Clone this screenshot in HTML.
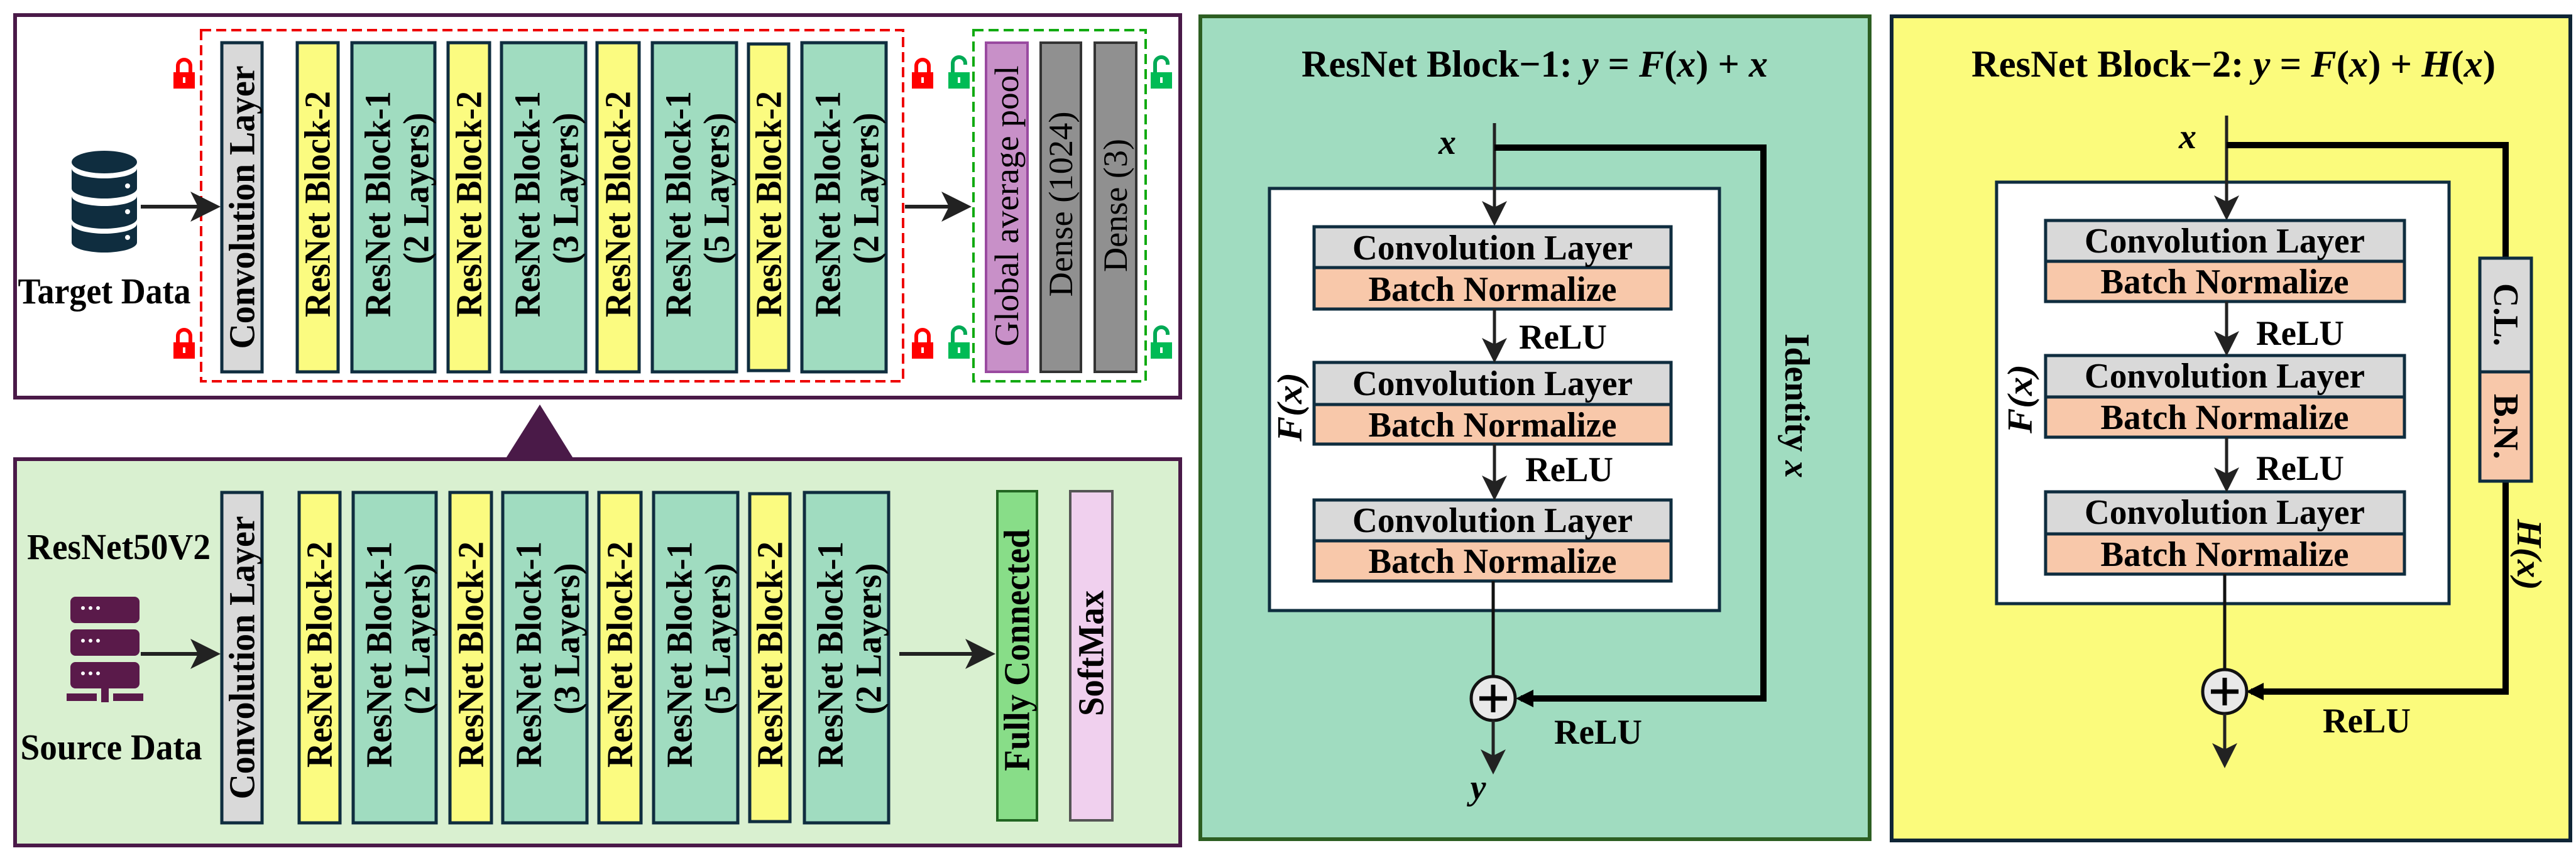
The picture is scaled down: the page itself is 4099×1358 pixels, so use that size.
<!DOCTYPE html>
<html><head><meta charset="utf-8"><style>html,body{margin:0;padding:0;background:#fff}svg{display:block}</style></head><body>
<svg width="4099" height="1358" viewBox="0 0 4099 1358" xmlns="http://www.w3.org/2000/svg" font-family="Liberation Serif, serif">
<defs>
<marker id="ah" markerWidth="8" markerHeight="8" refX="7" refY="4" orient="auto" markerUnits="strokeWidth"><path d="M0,0 L8,4 L0,8 L2,4 z" fill="#222"/></marker>
<g id="lockR"><path d="M-10,0 v-10 a10,10 0 0 1 20,0 v10" fill="none" stroke="#f00" stroke-width="6"/><rect x="-17" y="0" width="34" height="26" fill="#f00"/><rect x="-2" y="8" width="4" height="9" fill="#fff"/></g>
<g id="lockG"><path d="M-10,0 v-14 a10,10 0 0 1 20,0 v2" fill="none" stroke="#0a5" stroke-width="6"/><rect x="-17" y="0" width="34" height="26" fill="#0b5"/><rect x="-2" y="8" width="4" height="9" fill="#fff"/></g>
</defs>

<!-- TOP PANEL -->
<rect x="24" y="24" width="1854" height="609" fill="#fff" stroke="#4a1a48" stroke-width="6"/>
<rect x="320" y="48" width="1117" height="559" fill="none" stroke="#e00" stroke-width="4" stroke-dasharray="16,8"/>
<rect x="1549" y="48" width="274" height="559" fill="none" stroke="#1a1" stroke-width="4" stroke-dasharray="16,8"/>
<g fill="#0f2d3f">
<ellipse cx="166" cy="258" rx="52" ry="18"/>
<path d="M114,268 v32 a52,16 0 0 0 104,0 v-32 a52,16 0 0 1 -104,0z"/>
<path d="M114,312 v36 a52,16 0 0 0 104,0 v-36 a52,16 0 0 1 -104,0z"/>
<path d="M114,356 v30 a52,16 0 0 0 104,0 v-30 a52,16 0 0 1 -104,0z"/>
</g>
<g fill="#fff"><circle cx="203" cy="296" r="4"/><circle cx="203" cy="337" r="4"/><circle cx="203" cy="378" r="4"/></g>
<text x="166" y="483" font-size="58" font-weight="bold" text-anchor="middle" textLength="275" lengthAdjust="spacingAndGlyphs">Target Data</text>
<line x1="224" y1="329" x2="345" y2="329" stroke="#222" stroke-width="6" marker-end="url(#ah)"/>
<line x1="1440" y1="329" x2="1540" y2="329" stroke="#222" stroke-width="6" marker-end="url(#ah)"/>
<use href="#lockR" x="293" y="115"/><use href="#lockR" x="293" y="545"/>
<use href="#lockR" x="1468" y="115"/><use href="#lockR" x="1468" y="545"/>
<use href="#lockG" x="1526" y="115"/><use href="#lockG" x="1526" y="545"/>
<use href="#lockG" x="1848" y="115"/><use href="#lockG" x="1848" y="545"/>

<g stroke="#0f2d3f" stroke-width="5">
<rect x="353" y="68" width="64" height="524" fill="#d9d9d9"/>
<rect x="473" y="68" width="65" height="524" fill="#fbfb80"/>
<rect x="560" y="68" width="132" height="524" fill="#a0dcc0"/>
<rect x="713" y="68" width="66" height="524" fill="#fbfb80"/>
<rect x="798" y="68" width="134" height="524" fill="#a0dcc0"/>
<rect x="950" y="68" width="67" height="524" fill="#fbfb80"/>
<rect x="1038" y="68" width="134" height="524" fill="#a0dcc0"/>
<rect x="1191" y="70" width="64" height="520" fill="#fbfb80"/>
<rect x="1276" y="68" width="134" height="524" fill="#a0dcc0"/>
</g>
<rect x="1569" y="68" width="66" height="524" fill="#c890c8" stroke="#9a4aa0" stroke-width="4"/>
<rect x="1656" y="68" width="64" height="524" fill="#909090" stroke="#333" stroke-width="4"/>
<rect x="1742" y="68" width="66" height="524" fill="#909090" stroke="#333" stroke-width="4"/>

<g font-size="58" font-weight="bold" text-anchor="middle" dominant-baseline="central" lengthAdjust="spacingAndGlyphs">
<text transform="translate(385,330) rotate(-90)" textLength="451" lengthAdjust="spacingAndGlyphs">Convolution Layer</text>
<text transform="translate(505,325) rotate(-90)" textLength="360" lengthAdjust="spacingAndGlyphs">ResNet Block-2</text>
<text transform="translate(601,325) rotate(-90)" textLength="360" lengthAdjust="spacingAndGlyphs">ResNet Block-1</text>
<text transform="translate(662,300) rotate(-90)" textLength="241" lengthAdjust="spacingAndGlyphs">(2 Layers)</text>
<text transform="translate(746,325) rotate(-90)" textLength="360" lengthAdjust="spacingAndGlyphs">ResNet Block-2</text>
<text transform="translate(839,325) rotate(-90)" textLength="360" lengthAdjust="spacingAndGlyphs">ResNet Block-1</text>
<text transform="translate(900,300) rotate(-90)" textLength="241" lengthAdjust="spacingAndGlyphs">(3 Layers)</text>
<text transform="translate(983,325) rotate(-90)" textLength="360" lengthAdjust="spacingAndGlyphs">ResNet Block-2</text>
<text transform="translate(1079,325) rotate(-90)" textLength="360" lengthAdjust="spacingAndGlyphs">ResNet Block-1</text>
<text transform="translate(1140,300) rotate(-90)" textLength="241" lengthAdjust="spacingAndGlyphs">(5 Layers)</text>
<text transform="translate(1223,325) rotate(-90)" textLength="360" lengthAdjust="spacingAndGlyphs">ResNet Block-2</text>
<text transform="translate(1317,325) rotate(-90)" textLength="360" lengthAdjust="spacingAndGlyphs">ResNet Block-1</text>
<text transform="translate(1378,300) rotate(-90)" textLength="241" lengthAdjust="spacingAndGlyphs">(2 Layers)</text>
</g>
<g font-size="54" text-anchor="middle" dominant-baseline="central">
<text transform="translate(1602,328) rotate(-90)" textLength="447" lengthAdjust="spacingAndGlyphs">Global average pool</text>
<text transform="translate(1688,325) rotate(-90)" textLength="295" lengthAdjust="spacingAndGlyphs">Dense (1024)</text>
<text transform="translate(1775,327) rotate(-90)" textLength="212" lengthAdjust="spacingAndGlyphs">Dense (3)</text>
</g>

<polygon points="859,644 804,731 913,731" fill="#4a1a48"/>

<!-- BOTTOM PANEL -->
<rect x="24" y="731" width="1854" height="615" fill="#d9f0d0" stroke="#4a1a48" stroke-width="6"/>
<text x="189" y="890" font-size="58" font-weight="bold" text-anchor="middle" textLength="292" lengthAdjust="spacingAndGlyphs">ResNet50V2</text>
<g fill="#5a1a4a">
<rect x="112" y="950" width="110" height="42" rx="8"/>
<rect x="112" y="1002" width="110" height="42" rx="8"/>
<rect x="112" y="1054" width="110" height="42" rx="8"/>
<rect x="161" y="1096" width="12" height="22"/>
<rect x="106" y="1104" width="48" height="12"/><rect x="180" y="1104" width="48" height="12"/>
</g>
<g fill="#fff"><circle cx="132" cy="968" r="3"/><circle cx="144" cy="968" r="3"/><circle cx="156" cy="968" r="3"/>
<circle cx="132" cy="1020" r="3"/><circle cx="144" cy="1020" r="3"/><circle cx="156" cy="1020" r="3"/>
<circle cx="132" cy="1072" r="3"/><circle cx="144" cy="1072" r="3"/><circle cx="156" cy="1072" r="3"/></g>
<text x="177" y="1209" font-size="58" font-weight="bold" text-anchor="middle" textLength="289" lengthAdjust="spacingAndGlyphs">Source Data</text>
<line x1="224" y1="1041" x2="345" y2="1041" stroke="#222" stroke-width="6" marker-end="url(#ah)"/>
<line x1="1431" y1="1041" x2="1578" y2="1041" stroke="#222" stroke-width="6" marker-end="url(#ah)"/>

<g stroke="#0f2d3f" stroke-width="5">
<rect x="353" y="784" width="64" height="526" fill="#d9d9d9"/>
<rect x="476" y="784" width="65" height="526" fill="#fbfb80"/>
<rect x="562" y="784" width="132" height="526" fill="#a0dcc0"/>
<rect x="716" y="784" width="66" height="526" fill="#fbfb80"/>
<rect x="800" y="784" width="134" height="526" fill="#a0dcc0"/>
<rect x="953" y="784" width="67" height="526" fill="#fbfb80"/>
<rect x="1040" y="784" width="134" height="526" fill="#a0dcc0"/>
<rect x="1193" y="786" width="64" height="522" fill="#fbfb80"/>
<rect x="1280" y="784" width="134" height="526" fill="#a0dcc0"/>
</g>
<rect x="1587" y="782" width="63" height="524" fill="#88dd88" stroke="#226622" stroke-width="4"/>
<rect x="1703" y="782" width="67" height="524" fill="#f0d0ee" stroke="#555" stroke-width="4"/>
<g font-size="58" font-weight="bold" text-anchor="middle" dominant-baseline="central">
<text transform="translate(385,1047) rotate(-90)" textLength="451" lengthAdjust="spacingAndGlyphs">Convolution Layer</text>
<text transform="translate(508,1042) rotate(-90)" textLength="360" lengthAdjust="spacingAndGlyphs">ResNet Block-2</text>
<text transform="translate(603,1042) rotate(-90)" textLength="360" lengthAdjust="spacingAndGlyphs">ResNet Block-1</text>
<text transform="translate(664,1017) rotate(-90)" textLength="241" lengthAdjust="spacingAndGlyphs">(2 Layers)</text>
<text transform="translate(749,1042) rotate(-90)" textLength="360" lengthAdjust="spacingAndGlyphs">ResNet Block-2</text>
<text transform="translate(841,1042) rotate(-90)" textLength="360" lengthAdjust="spacingAndGlyphs">ResNet Block-1</text>
<text transform="translate(902,1017) rotate(-90)" textLength="241" lengthAdjust="spacingAndGlyphs">(3 Layers)</text>
<text transform="translate(986,1042) rotate(-90)" textLength="360" lengthAdjust="spacingAndGlyphs">ResNet Block-2</text>
<text transform="translate(1081,1042) rotate(-90)" textLength="360" lengthAdjust="spacingAndGlyphs">ResNet Block-1</text>
<text transform="translate(1142,1017) rotate(-90)" textLength="241" lengthAdjust="spacingAndGlyphs">(5 Layers)</text>
<text transform="translate(1225,1042) rotate(-90)" textLength="360" lengthAdjust="spacingAndGlyphs">ResNet Block-2</text>
<text transform="translate(1321,1042) rotate(-90)" textLength="360" lengthAdjust="spacingAndGlyphs">ResNet Block-1</text>
<text transform="translate(1382,1017) rotate(-90)" textLength="241" lengthAdjust="spacingAndGlyphs">(2 Layers)</text>
<text transform="translate(1618,1035) rotate(-90)" textLength="385" lengthAdjust="spacingAndGlyphs">Fully Connected</text>
<text transform="translate(1736,1040) rotate(-90)" textLength="200" lengthAdjust="spacingAndGlyphs">SoftMax</text>
</g>

<!-- MIDDLE PANEL -->
<rect x="1910" y="26" width="1065" height="1310" fill="#a0dcc0" stroke="#2d5e22" stroke-width="6"/>
<text x="2442" y="122" font-size="60" font-weight="bold" text-anchor="middle" textLength="742" lengthAdjust="spacingAndGlyphs">ResNet Block−1: <tspan font-style="italic">y</tspan> = <tspan font-style="italic">F</tspan>(<tspan font-style="italic">x</tspan>) + <tspan font-style="italic">x</tspan></text>
<rect x="2020" y="300" width="716" height="672" fill="#fff" stroke="#0f2d3f" stroke-width="5"/>
<text x="2303" y="245" font-size="56" font-weight="bold" font-style="italic" text-anchor="middle">x</text>
<line x1="2378" y1="196" x2="2378" y2="355" stroke="#222" stroke-width="5" marker-end="url(#ah)"/>
<polyline points="2378,235 2806,235 2806,1112 2420,1112" fill="none" stroke="#000" stroke-width="10"/>
<polygon points="2412,1112 2440,1098 2440,1126" fill="#000"/>
<g stroke="#0f2d3f" stroke-width="5">
<rect x="2091" y="361" width="568" height="65" fill="#d9d9d9"/><rect x="2091" y="426" width="568" height="66" fill="#f8c8aa"/>
<rect x="2091" y="577" width="568" height="67" fill="#d9d9d9"/><rect x="2091" y="644" width="568" height="63" fill="#f8c8aa"/>
<rect x="2091" y="796" width="568" height="65" fill="#d9d9d9"/><rect x="2091" y="861" width="568" height="64" fill="#f8c8aa"/>
</g>
<g font-size="56" font-weight="bold" text-anchor="middle" dominant-baseline="central">
<text x="2375" y="395" textLength="446" lengthAdjust="spacingAndGlyphs">Convolution Layer</text><text x="2375" y="461" textLength="395" lengthAdjust="spacingAndGlyphs">Batch Normalize</text>
<text x="2375" y="611" textLength="446" lengthAdjust="spacingAndGlyphs">Convolution Layer</text><text x="2375" y="677" textLength="395" lengthAdjust="spacingAndGlyphs">Batch Normalize</text>
<text x="2375" y="829" textLength="446" lengthAdjust="spacingAndGlyphs">Convolution Layer</text><text x="2375" y="894" textLength="395" lengthAdjust="spacingAndGlyphs">Batch Normalize</text>
<text x="2487" y="537" textLength="140" lengthAdjust="spacingAndGlyphs">ReLU</text><text x="2497" y="748" textLength="140" lengthAdjust="spacingAndGlyphs">ReLU</text><text x="2543" y="1166" textLength="140" lengthAdjust="spacingAndGlyphs">ReLU</text>
<text transform="translate(2053,648) rotate(-90)" font-style="italic" textLength="110" lengthAdjust="spacingAndGlyphs">F(x)</text>
<text transform="translate(2859,646) rotate(90)" textLength="230" lengthAdjust="spacingAndGlyphs">Identity <tspan font-style="italic">x</tspan></text>
</g>
<line x1="2378" y1="492" x2="2378" y2="573" stroke="#222" stroke-width="5" marker-end="url(#ah)"/>
<line x1="2378" y1="707" x2="2378" y2="792" stroke="#222" stroke-width="5" marker-end="url(#ah)"/>
<line x1="2376" y1="925" x2="2376" y2="1076" stroke="#111" stroke-width="5"/>
<circle cx="2376" cy="1112" r="35" fill="#e8e8e8" stroke="#111" stroke-width="5"/>
<path d="M2376,1090 v44 M2354,1112 h44" stroke="#000" stroke-width="7"/>
<line x1="2376" y1="1147" x2="2376" y2="1228" stroke="#222" stroke-width="5" marker-end="url(#ah)"/>
<text x="2352" y="1272" font-size="56" font-weight="bold" font-style="italic" text-anchor="middle">y</text>

<!-- RIGHT PANEL -->
<rect x="3010" y="26" width="1080" height="1312" fill="#fbfb7c" stroke="#0f2535" stroke-width="6"/>
<text x="3554" y="122" font-size="60" font-weight="bold" text-anchor="middle" textLength="834" lengthAdjust="spacingAndGlyphs">ResNet Block−2: <tspan font-style="italic">y</tspan> = <tspan font-style="italic">F</tspan>(<tspan font-style="italic">x</tspan>) + <tspan font-style="italic">H</tspan>(<tspan font-style="italic">x</tspan>)</text>
<rect x="3177" y="290" width="720" height="671" fill="#fff" stroke="#0f2d3f" stroke-width="5"/>
<text x="3481" y="236" font-size="56" font-weight="bold" font-style="italic" text-anchor="middle">x</text>
<line x1="3543" y1="184" x2="3543" y2="346" stroke="#222" stroke-width="5" marker-end="url(#ah)"/>
<polyline points="3543,231 3987,231 3987,411" fill="none" stroke="#000" stroke-width="10"/>
<polyline points="3987,766 3987,1101 3582,1101" fill="none" stroke="#000" stroke-width="10"/>
<polygon points="3574,1101 3602,1087 3602,1115" fill="#000"/>
<g stroke="#0f2d3f" stroke-width="5">
<rect x="3946" y="411" width="82" height="181" fill="#d9d9d9"/><rect x="3946" y="592" width="82" height="174" fill="#f8c8aa"/>
<rect x="3255" y="351" width="571" height="65" fill="#d9d9d9"/><rect x="3255" y="416" width="571" height="64" fill="#f8c8aa"/>
<rect x="3255" y="566" width="571" height="66" fill="#d9d9d9"/><rect x="3255" y="632" width="571" height="64" fill="#f8c8aa"/>
<rect x="3255" y="783" width="571" height="67" fill="#d9d9d9"/><rect x="3255" y="850" width="571" height="64" fill="#f8c8aa"/>
</g>
<g font-size="56" font-weight="bold" text-anchor="middle" dominant-baseline="central">
<text x="3540" y="384" textLength="446" lengthAdjust="spacingAndGlyphs">Convolution Layer</text><text x="3540" y="449" textLength="395" lengthAdjust="spacingAndGlyphs">Batch Normalize</text>
<text x="3540" y="599" textLength="446" lengthAdjust="spacingAndGlyphs">Convolution Layer</text><text x="3540" y="665" textLength="395" lengthAdjust="spacingAndGlyphs">Batch Normalize</text>
<text x="3540" y="816" textLength="446" lengthAdjust="spacingAndGlyphs">Convolution Layer</text><text x="3540" y="883" textLength="395" lengthAdjust="spacingAndGlyphs">Batch Normalize</text>
<text x="3660" y="531" textLength="140" lengthAdjust="spacingAndGlyphs">ReLU</text><text x="3660" y="746" textLength="140" lengthAdjust="spacingAndGlyphs">ReLU</text><text x="3766" y="1148" textLength="140" lengthAdjust="spacingAndGlyphs">ReLU</text>
<text transform="translate(3215,635) rotate(-90)" font-style="italic" textLength="110" lengthAdjust="spacingAndGlyphs">F(x)</text>
<text transform="translate(3987,501) rotate(90)" textLength="100" lengthAdjust="spacingAndGlyphs">C.L.</text>
<text transform="translate(3987,679) rotate(90)" textLength="104" lengthAdjust="spacingAndGlyphs">B.N.</text>
<text transform="translate(4024,883) rotate(90)" font-style="italic" textLength="113" lengthAdjust="spacingAndGlyphs">H(x)</text>
</g>
<line x1="3543" y1="480" x2="3543" y2="562" stroke="#222" stroke-width="5" marker-end="url(#ah)"/>
<line x1="3543" y1="696" x2="3543" y2="779" stroke="#222" stroke-width="5" marker-end="url(#ah)"/>
<line x1="3540" y1="914" x2="3540" y2="1066" stroke="#111" stroke-width="5"/>
<circle cx="3540" cy="1101" r="35" fill="#e8e8e8" stroke="#111" stroke-width="5"/>
<path d="M3540,1079 v44 M3518,1101 h44" stroke="#000" stroke-width="7"/>
<line x1="3540" y1="1136" x2="3540" y2="1218" stroke="#222" stroke-width="5" marker-end="url(#ah)"/>
</svg>
</body></html>
